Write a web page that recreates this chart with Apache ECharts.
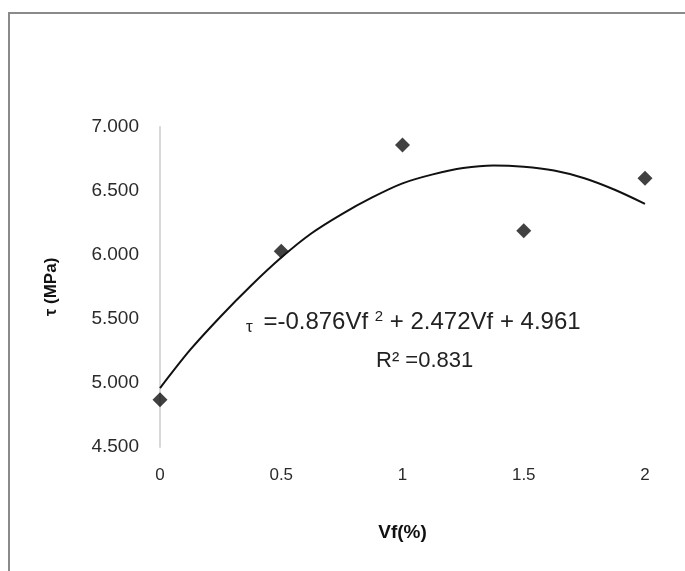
<!DOCTYPE html>
<html><head><meta charset="utf-8">
<script src="https://cdn.jsdelivr.net/npm/echarts@6/dist/echarts.min.js"></script>
<style>html,body{margin:0;padding:0;background:#fff}#c{width:685px;height:571px}</style>
</head><body><div id="c"></div>
<script>
const vf = [0, 0.5, 1, 1.5, 2];
const tau = [4.87, 6.03, 6.86, 6.19, 6.60];
const trendX = [0, 0.125, 0.25, 0.375, 0.5, 0.625, 0.75, 0.875, 1, 1.125, 1.25, 1.375, 1.5, 1.625, 1.75, 1.875, 2];
const trendY = [4.96, 5.26, 5.52, 5.76, 5.98, 6.17, 6.32, 6.45, 6.56, 6.63, 6.68, 6.70, 6.69, 6.66, 6.60, 6.51, 6.40];
const yTicks = [4.5, 5.0, 5.5, 6.0, 6.5, 7.0];
const xTicks = [0, 0.5, 1, 1.5, 2];
const eqMain1 = ' =-0.876Vf ';
const eqSup = '2';
const eqMain2 = ' + 2.472Vf + 4.961';
const r2Text = 'R² =0.831';

const chart = echarts.init(document.getElementById('c'));
const font = '"Liberation Sans", Arial, sans-serif';
chart.setOption({
  animation: false,
  grid: {left: 160, right: 40, top: 127, bottom: 124},
  xAxis: {
    type: 'value', min: xTicks[0], max: xTicks[xTicks.length - 1], interval: 0.5,
    axisLine: {show: false}, axisTick: {show: false}, splitLine: {show: false},
    axisLabel: {margin: 20, color: '#2a2a2a', fontSize: 17, fontFamily: font,
      formatter: v => String(v)},
    name: 'Vf(%)', nameLocation: 'middle', nameGap: 76, nameMoveOverlap: false,
    nameTextStyle: {color: '#111', fontSize: 19, fontWeight: 'bold', fontFamily: font}
  },
  yAxis: {
    type: 'value', min: yTicks[0], max: yTicks[yTicks.length - 1], interval: 0.5,
    axisLine: {show: true, lineStyle: {color: '#d8d8d8', width: 2}},
    axisTick: {show: false}, splitLine: {show: false},
    axisLabel: {margin: 21, color: '#2a2a2a', fontSize: 19, fontFamily: font,
      formatter: v => v.toFixed(3)},
    name: 'τ (MPa)', nameLocation: 'middle', nameGap: 100, nameRotate: 90, nameMoveOverlap: false,
    nameTextStyle: {color: '#111', fontSize: 17, fontWeight: 'bold', fontFamily: font}
  },
  series: [
    {
      type: 'line', smooth: 0.3, showSymbol: false, silent: true,
      data: trendX.map((x, i) => [x, trendY[i]]),
      lineStyle: {color: '#111', width: 2}
    },
    {
      type: 'scatter', symbol: 'diamond', symbolSize: 15,
      data: vf.map((x, i) => [x, tau[i]]),
      itemStyle: {color: '#111'}
    }
  ],
  graphic: [
    {type: 'rect', shape: {x: 9, y: 13, width: 700, height: 600},
      style: {fill: 'none', stroke: '#8a8a8a', lineWidth: 2}},
    {type: 'text', left: 246, top: 309,
      style: {
        text: '{t|τ}{m|' + eqMain1 + '}{s|' + eqSup + '}{m|' + eqMain2 + '}',
        rich: {
          t: {fontSize: 17, fill: '#222', fontFamily: font, padding: [10, 4, 0, 0]},
          m: {fontSize: 24, fill: '#222', fontFamily: font},
          s: {fontSize: 15, fill: '#222', fontFamily: font, padding: [0, 0, 11, 0]}
        }
      }},
    {type: 'text', left: 376, top: 350,
      style: {text: r2Text, fill: '#222', fontSize: 22, fontFamily: font}}
  ]
});
</script></body></html>
